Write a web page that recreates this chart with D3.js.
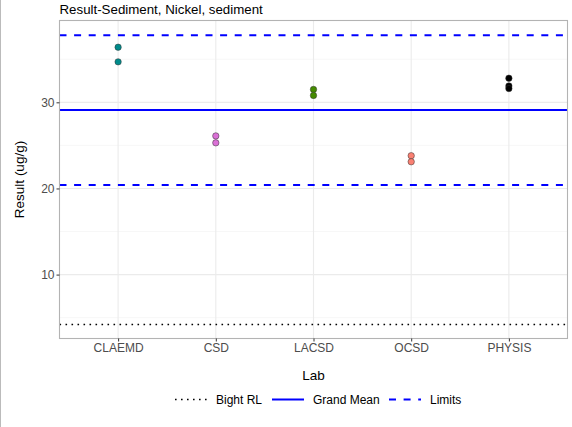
<!DOCTYPE html>
<html>
<head>
<script src="https://d3js.org/d3.v7.min.js"></script>
<style>
  body { margin: 0; background: #fff; }
  text { font-family: "Liberation Sans", Arial, sans-serif; }
  .tick text { fill: #4d4d4d; font-size: 12px; }
</style>
</head>
<body>
<svg width="572" height="427"></svg>
<script>
// data
var labs = ["CLAEMD", "CSD", "LACSD", "OCSD", "PHYSIS"];
var labColors = ["#008b8b", "#da70d6", "#458b00", "#fa8072", "#000000"];
var pointLab = ["CLAEMD", "CLAEMD", "CSD", "CSD", "LACSD", "LACSD", "OCSD", "OCSD", "PHYSIS", "PHYSIS", "PHYSIS"];
var pointResult = [36.4, 34.7, 26.1, 25.3, 31.5, 30.8, 23.8, 23.1, 32.8, 31.9, 31.6];
var yTicks = [10, 20, 30];
var yMinor = [5, 15, 25, 35];
var grandMean = 29.1;
var limits = [37.8, 20.4];
var bightRL = 4.2;
var legendNames = ["Bight RL", "Grand Mean", "Limits"];

var svg = d3.select("svg");
var pLeft = 59.5, pRight = 567.5, pTop = 20.5, pBottom = 338.5;

var x = d3.scalePoint().domain(labs).range([pLeft, pRight]).padding(0.6);
var y = d3.scaleLinear().domain([2.58, 39.5]).range([pBottom, pTop]);
var color = d3.scaleOrdinal().domain(labs).range(labColors);

// left image border
svg.append("line").attr("x1", 0.5).attr("x2", 0.5).attr("y1", 0).attr("y2", 427)
  .attr("stroke", "#bbb");

// grid
var grid = svg.append("g");
grid.selectAll(".minor").data(yMinor).enter().append("line")
  .attr("x1", pLeft).attr("x2", pRight)
  .attr("y1", d => y(d)).attr("y2", d => y(d))
  .attr("stroke", "#f2f2f2").attr("stroke-width", 0.6);
grid.selectAll(".major").data(yTicks).enter().append("line")
  .attr("x1", pLeft).attr("x2", pRight)
  .attr("y1", d => y(d)).attr("y2", d => y(d))
  .attr("stroke", "#ebebeb").attr("stroke-width", 1.1);
grid.selectAll(".vert").data(labs).enter().append("line")
  .attr("x1", d => x(d)).attr("x2", d => x(d))
  .attr("y1", pTop).attr("y2", pBottom)
  .attr("stroke", "#ebebeb").attr("stroke-width", 1.1);

// reference lines
function hline(v, dash) {
  svg.append("line").attr("x1", pLeft).attr("x2", pRight)
    .attr("y1", y(v)).attr("y2", y(v))
    .attr("stroke", dash === "dot" ? "#000" : "#0000ff")
    .attr("stroke-width", dash === "dot" ? 1.6 : 2)
    .attr("stroke-dasharray", dash === "dot" ? "1.6,4.4" : dash === "dash" ? "7,7.6" : null);
}
hline(bightRL, "dot");
hline(grandMean, "solid");
limits.forEach(v => hline(v, "dash"));

// points
svg.append("g").selectAll("circle").data(pointResult).enter().append("circle")
  .attr("cx", (d, i) => x(pointLab[i]))
  .attr("cy", d => y(d))
  .attr("r", 3.2)
  .attr("fill", (d, i) => color(pointLab[i]))
  .attr("stroke", "#333").attr("stroke-width", 0.5);

// panel border
svg.append("rect").attr("x", pLeft).attr("y", pTop)
  .attr("width", pRight - pLeft).attr("height", pBottom - pTop)
  .attr("fill", "none").attr("stroke", "#b3b3b3").attr("stroke-width", 1.1);

// axes
var yAxis = svg.append("g").attr("transform", "translate(" + pLeft + ",0)")
  .call(d3.axisLeft(y).tickValues(yTicks).tickSize(3).tickPadding(2));
var xAxis = svg.append("g").attr("transform", "translate(0," + pBottom + ")")
  .call(d3.axisBottom(x).tickSize(3).tickPadding(2));
[yAxis, xAxis].forEach(a => {
  a.select(".domain").remove();
  a.selectAll(".tick line").attr("stroke", "#333");
  a.selectAll(".tick text").attr("font-family", "Liberation Sans, Arial, sans-serif");
});

// titles
svg.append("text").attr("x", pLeft).attr("y", 14).text("Result-Sediment, Nickel, sediment")
  .attr("font-size", "13.3px").attr("fill", "#000");
svg.append("text").attr("transform", "translate(24," + ((pTop + pBottom) / 2) + ") rotate(-90)")
  .attr("text-anchor", "middle").attr("font-size", "13.5px").text("Result (ug/g)");
svg.append("text").attr("x", (pLeft + pRight) / 2).attr("y", 380)
  .attr("text-anchor", "middle").attr("font-size", "13.5px").text("Lab");

// legend
var legendX = [175, 272, 389];
var legendDash = ["1.6,4.4", null, "7,7.6"];
var legendColor = ["#000", "#0000ff", "#0000ff"];
var lg = svg.append("g");
legendNames.forEach((n, i) => {
  lg.append("line").attr("x1", legendX[i]).attr("x2", legendX[i] + 32)
    .attr("y1", 399.5).attr("y2", 399.5)
    .attr("stroke", legendColor[i]).attr("stroke-width", i === 0 ? 1.6 : 2)
    .attr("stroke-dasharray", legendDash[i]);
  lg.append("text").attr("x", legendX[i] + 41).attr("y", 404)
    .attr("font-size", "12px").attr("fill", "#000").text(n);
});
</script>
</body>
</html>
